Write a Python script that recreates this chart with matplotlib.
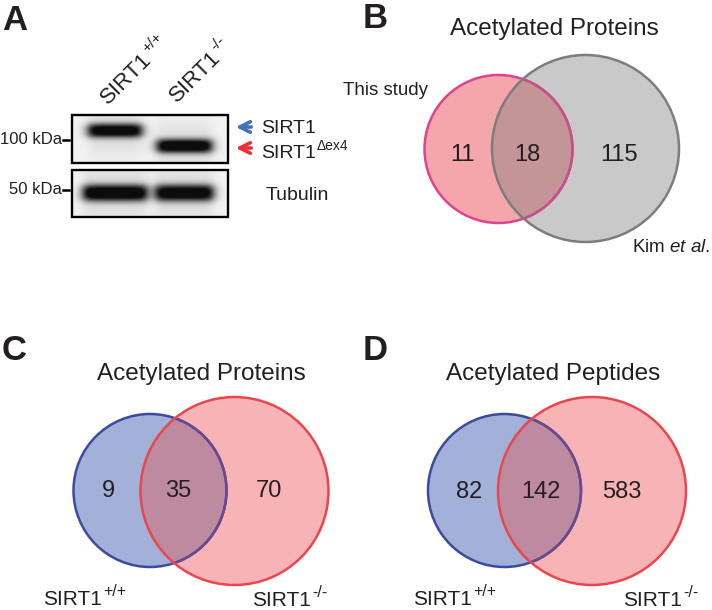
import numpy as np
import matplotlib
matplotlib.use('Agg')
import matplotlib.pyplot as plt
from matplotlib.patches import Circle, Rectangle

# ---- data ----
lane_genotypes = ['+/+', '-/-']
marker_kda = [100, 50]
sirt1_kda = [114, 92]          # full length / delta ex4
sirt1_signal = [0.95, 1.0]
tubulin_kda = [48, 48]
tubulin_signal = [1.0, 0.97]

title_b = 'Acetylated Proteins'
sets_b = ['This study', 'Kim et al.']
counts_b = [11, 18, 115]

title_c = 'Acetylated Proteins'
counts_c = [9, 35, 70]

title_d = 'Acetylated Peptides'
counts_d = [82, 142, 583]

plt.rcParams['font.family'] = ['Liberation Sans', 'DejaVu Sans']
plt.rcParams['mathtext.fontset'] = 'custom'
plt.rcParams['mathtext.rm'] = 'Liberation Sans'
plt.rcParams['mathtext.it'] = 'Liberation Sans:italic'

TXT = '#231f20'

fig = plt.figure(figsize=(7.12, 6.10), dpi=100)
ax = fig.add_axes([0, 0, 1, 1])
ax.set_xlim(0, 712)
ax.set_ylim(610, 0)
ax.axis('off')
renderer = fig.canvas.get_renderer()


def sup_text(x, y, base, sup, size, sup_size, rot=0, rise=None):
    # base text + raised superscript, also works rotated
    t = ax.text(x, y, base, fontsize=size, ha='left', va='baseline',
                rotation_mode='anchor', color=TXT)
    w = t.get_window_extent(renderer).width
    t.set_rotation(rot)
    if rise is None:
        rise = size * 100 / 72 * 0.45
    a = np.deg2rad(rot)
    w = w + 1
    sx = x + w * np.cos(a) - rise * np.sin(a)
    sy = y - (w * np.sin(a) + rise * np.cos(a))
    ax.text(sx, sy, sup, fontsize=sup_size, rotation=rot, rotation_mode='anchor',
            ha='left', va='baseline', color=TXT)


def kda_to_y(kda):
    return 140 + (np.log(100) - np.log(np.asarray(kda, float))) * 72.1


# ---- panel A : western blot ----
ax.text(2, 30, 'A', fontsize=25, fontweight='bold', color=TXT)
lane_x = [115, 184.5]
lane_hw = [[27, 27.5], [32, 29]]


def blot(y0, y1, kdas, signals, hws, sig):
    xs = np.linspace(72, 228, 320)
    ys = np.linspace(y0, y1, 110)
    X, Y = np.meshgrid(xs, ys)
    img = np.full(X.shape, 0.95)
    for cx, hw, kda, s in zip(lane_x, hws, kdas, signals):
        cy = kda_to_y(kda)
        hx = 1 / (1 + np.exp(-(X - (cx - hw)) / 3.0)) * 1 / (1 + np.exp(-((cx + hw) - X) / 3.0))
        d = np.abs(Y - cy) / sig
        hy = np.exp(-0.5 * d ** 2.6)
        haze = 0.10 * np.exp(-0.5 * ((Y - cy) / (3 * sig)) ** 2)
        img -= hx * (s * hy + haze)
    img = np.clip(img, 0.05, 1)
    ax.imshow(img, cmap='gray', vmin=0, vmax=1, extent=(72, 228, y1, y0),
              interpolation='bilinear', aspect='auto', zorder=1)
    ax.add_patch(Rectangle((72, y0), 156, y1 - y0, fill=False, ec='black', lw=1.7, zorder=2))


blot(115, 163, sirt1_kda, sirt1_signal, lane_hw[0], 5.5)
blot(170, 217, tubulin_kda, tubulin_signal, lane_hw[1], 6.5)
ax.set_xlim(0, 712)
ax.set_ylim(610, 0)

for kda in marker_kda:
    y = kda_to_y(kda)
    ax.plot([63, 69], [y, y], color='black', lw=1.8)
    ax.text(62, y, '%d kDa' % kda, fontsize=12, ha='right', va='center', color=TXT)

lane_anchor = [(108, 105), (177, 103)]
for (lx, ly), g in zip(lane_anchor, lane_genotypes):
    sup_text(lx, ly, 'SIRT1', g, 16, 11, rot=45, rise=9)

ax.annotate('', xy=(233, 127), xytext=(254, 127),
            arrowprops=dict(arrowstyle='->', color='#4472b8', lw=2.6, mutation_scale=19))
ax.annotate('', xy=(233, 148), xytext=(254, 148),
            arrowprops=dict(arrowstyle='->', color='#e8323a', lw=2.6, mutation_scale=19))
ax.text(261, 133, 'SIRT1', fontsize=14, ha='left', va='baseline', color=TXT)
sup_text(261, 158, 'SIRT1', '\u0394ex4', 14, 10, rise=8)
ax.text(266, 200, 'Tubulin', fontsize=14, ha='left', va='baseline', color=TXT)


# ---- Venn panels ----
def venn(c1, r1, c2, r2, fill1, edge1, fill2, edge2, over, edge1_in, counts, xs, ybase):
    ax.add_patch(Circle(c1, r1, fc=fill1, ec='none', zorder=3))
    ax.add_patch(Circle(c2, r2, fc=fill2, ec='none', zorder=3))
    clip1 = Circle(c1, r1, transform=ax.transData)
    clip2 = Circle(c2, r2, transform=ax.transData)
    ov = Circle(c2, r2, fc=over, ec='none', zorder=4)
    ax.add_patch(ov)
    ov.set_clip_path(clip1)
    ax.add_patch(Circle(c1, r1, fill=False, ec=edge1, lw=1.8, zorder=5))
    inner = Circle(c1, r1, fill=False, ec=edge1_in, lw=1.8, zorder=6)
    ax.add_patch(inner)
    inner.set_clip_path(clip2)
    ax.add_patch(Circle(c2, r2, fill=False, ec=edge2, lw=1.8, zorder=7))
    for x, n in zip(xs, counts):
        ax.text(x, ybase, str(n), fontsize=17, ha='center', va='baseline', color=TXT, zorder=8)


# B
ax.text(363, 28, 'B', fontsize=25, fontweight='bold', color=TXT)
ax.text(554, 35, title_b, fontsize=17.5, ha='center', va='baseline', color=TXT)
venn((498.5, 149), 74, (585.5, 148.5), 93.5,
     '#f4a6aa', '#dc4490', '#c9c9c9', '#7d7d7d', '#c49597', '#c8508a',
     counts_b, [462, 527, 619], 161)
ax.text(343, 95, sets_b[0], fontsize=13.5, ha='left', va='baseline', color=TXT)
ax.text(632, 252, 'Kim $\\mathit{et\\ al.}$', fontsize=13.5, ha='left', va='baseline', color=TXT)

# C
ax.text(2, 360, 'C', fontsize=25, fontweight='bold', color=TXT)
ax.text(201, 380, title_c, fontsize=17.5, ha='center', va='baseline', color=TXT)
venn((150, 490.5), 76.5, (234.5, 491), 94,
     '#a3b1d8', '#3c4aa0', '#f7b3b6', '#e8474d', '#bd8aa0', '#6a4a8c',
     counts_c, [108, 178, 269], 497)
sup_text(43, 605, 'SIRT1', lane_genotypes[0], 15, 11.5)
sup_text(252, 606, 'SIRT1', lane_genotypes[1], 15, 11.5)

# D
ax.text(363, 360, 'D', fontsize=25, fontweight='bold', color=TXT)
ax.text(553, 380, title_d, fontsize=17.5, ha='center', va='baseline', color=TXT)
venn((504.5, 490.5), 76.5, (592, 491), 94,
     '#a3b1d8', '#3c4aa0', '#f7b3b6', '#e8474d', '#bd8aa0', '#6a4a8c',
     counts_d, [469, 541, 622], 498)
sup_text(413, 605, 'SIRT1', lane_genotypes[0], 15, 11.5)
sup_text(623, 606, 'SIRT1', lane_genotypes[1], 15, 11.5)

fig.savefig('out.png', dpi=100)
